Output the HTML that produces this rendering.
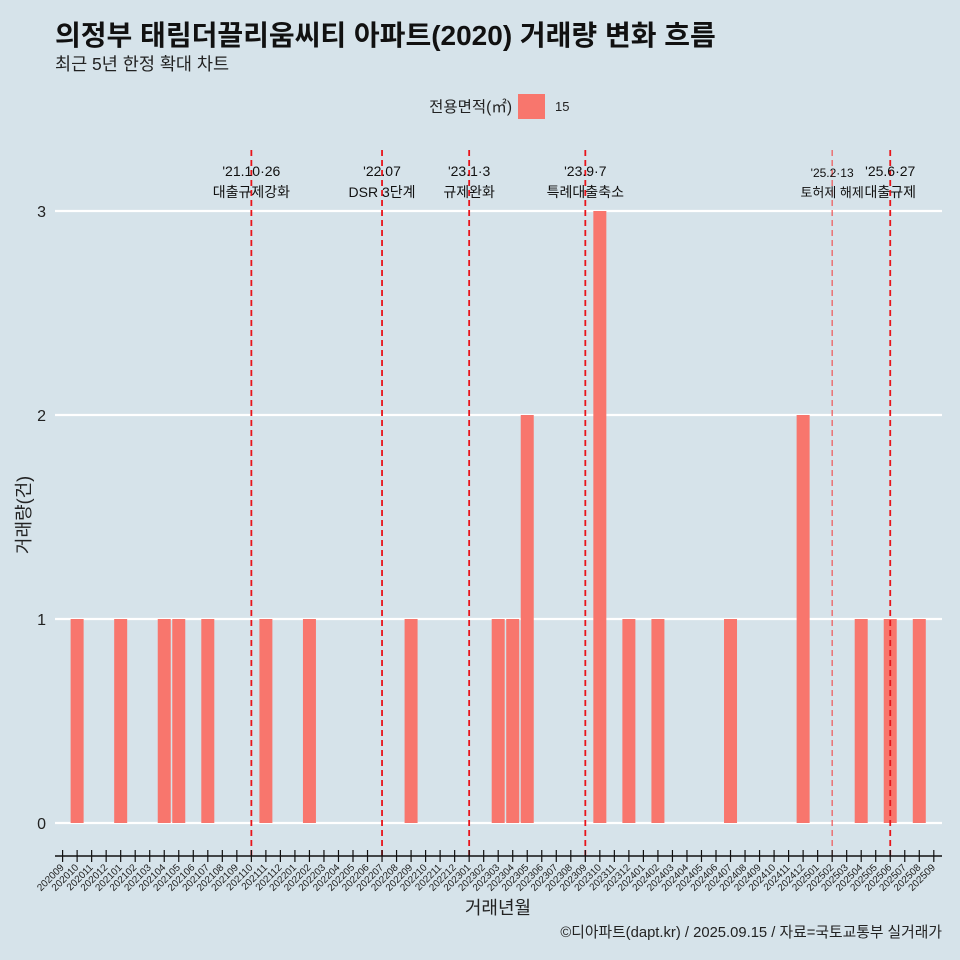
<!DOCTYPE html>
<html><head><meta charset="utf-8"><style>
body{margin:0;background:#d6e3ea;}
svg{display:block;font-family:"Liberation Sans","Noto Sans CJK KR",sans-serif;}
</style></head><body>
<svg id="chart" width="960" height="960" viewBox="0 0 960 960">
<rect width="960" height="960" fill="#d6e3ea"/>
<text x="55" y="45" font-size="28" font-weight="bold" fill="#111">의정부 태림더끌리움씨티 아파트(2020) 거래량 변화 흐름</text>
<text x="55" y="70" font-size="17.5" fill="#222">최근 5년 한정 확대 차트</text>
<g>
<text x="512" y="112" font-size="15.5" text-anchor="end" fill="#222">전용면적(㎡)</text>
<rect x="518" y="94" width="27" height="25" fill="#f8766d"/>
<text x="555" y="111" font-size="13" fill="#222">15</text>
</g>
<g id="grid"></g><g id="bars"></g><g id="events"></g><g id="xaxis"></g>
<text x="30" y="515" font-size="18" fill="#222" text-anchor="middle" transform="rotate(-90 30 515)">거래량(건)</text>
<text x="498" y="914" font-size="18" fill="#222" text-anchor="middle">거래년월</text>
<text x="942" y="937" font-size="14.8" fill="#222" text-anchor="end">©디아파트(dapt.kr) / 2025.09.15 / 자료=국토교통부 실거래가</text>
</svg>
<script>
const months = [];
for (let y = 2020, m = 9; y * 100 + m <= 202509; m++) { if (m > 12) { m = 1; y++; } months.push(String(y * 100 + m)); }
const barMonths = ["202010","202101","202104","202105","202107","202111","202202","202209","202303","202304","202305","202310","202312","202402","202407","202412","202504","202506","202508"];
const barValues = [1,1,1,1,1,1,1,1,1,1,2,3,1,1,1,2,1,1,1];
const yTicks = [0,1,2,3];
const eventMonths = ["202110","202207","202301","202309","202502","202506"];
const eventDates = ["'21.10·26","'22.07","'23.1·3","'23.9·7","'25.2·13","'25.6·27"];
const eventLabels = ["대출규제강화","DSR 3단계","규제완화","특례대출축소","토허제 해제","대출규제"];

const NS = "http://www.w3.org/2000/svg";
const x = i => 62.6 + i * 14.52;
const y = v => 823 - v * 204;
function mk(tag, attrs, parent, text) {
  const e = document.createElementNS(NS, tag);
  for (const k in attrs) e.setAttribute(k, attrs[k]);
  if (text !== undefined) e.textContent = text;
  document.getElementById(parent).appendChild(e);
  return e;
}
yTicks.forEach(t => {
  const l = mk("line", {x1: 55, x2: 942, y1: y(t), y2: y(t), stroke: "#fff", "stroke-width": 2.2}, "grid");
  
  
  const tx = mk("text", {x: 46, y: y(t) + 6, "font-size": 16, "text-anchor": "end", fill: "#222"}, "grid", String(t));
  
  
});
barMonths.forEach((mo, k) => {
  const i = months.indexOf(mo);
  const r = mk("rect", {x: x(i) - 6.5, y: y(barValues[k]), width: 13, height: y(0) - y(barValues[k]), fill: "#f8766d"}, "bars");
  
  
});
eventMonths.forEach((mo, k) => {
  const i = months.indexOf(mo);
  const light = mo === "202502";
  const l = mk("line", {x1: x(i), x2: x(i), y1: 150, y2: 856, stroke: light ? "#ee5555" : "#e8141a", "stroke-width": light ? 1.2 : 1.8, "stroke-dasharray": "6,4"}, "events");
  
  
  const cx = x(i);
  const d = mk("text", {x: cx, y: light ? 177 : 176, "font-size": light ? 12 : 14, "text-anchor": "middle", fill: "#111"}, "events", eventDates[k]);
  
  
  const t = mk("text", {x: cx, y: 197, "font-size": light ? 13 : 14, "text-anchor": "middle", fill: "#111"}, "events", eventLabels[k]);
  
  
});
const ax = mk("line", {x1: 55, x2: 942, y1: 856, y2: 856, stroke: "#111", "stroke-width": 1.5}, "xaxis");


months.forEach((mo, i) => {
  const tk = mk("line", {x1: x(i), x2: x(i), y1: 850, y2: 862, stroke: "#111", "stroke-width": 1.2}, "xaxis");
  
  
  const lb = mk("text", {x: x(i) + 2, y: 868, "font-size": 10, "text-anchor": "end", fill: "#222", transform: `rotate(-45 ${x(i) + 2} 868)`}, "xaxis", mo);
  
  
});
</script>
</body></html>
